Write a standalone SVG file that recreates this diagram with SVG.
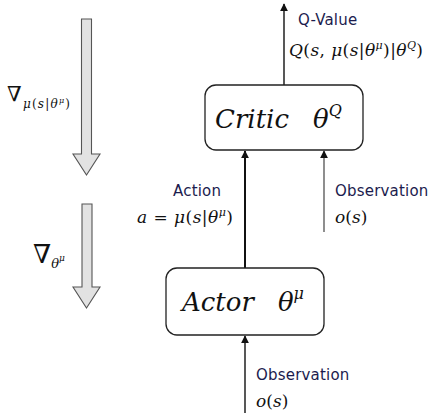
<svg xmlns="http://www.w3.org/2000/svg" width="437" height="413" viewBox="0 0 437 413">
<style>
.bg{fill:#fff}
.node rect{fill:#fff;stroke:#222;stroke-width:1.3}
.big{font-family:"DejaVu Serif","Liberation Serif",serif;font-style:italic;font-size:26px;fill:#111}
.m{font-family:"DejaVu Serif","Liberation Serif",serif;font-size:17px;fill:#111}
.i{font-style:italic}
.lab{font-family:"DejaVu Sans","Noto Sans",sans-serif;font-size:15px;letter-spacing:0.2px;fill:#1c1c4e}
.grad{fill:#e2e2e2;stroke:#555;stroke-width:1.1}
.c{stroke:#111;stroke-width:1.4;fill:none}
.ct{stroke:#111;stroke-width:2;fill:none}
.cg{stroke:#444;stroke-width:1.2;fill:none}
</style>
<defs>
<marker id="ah" viewBox="0 0 10 10" refX="9" refY="5" markerWidth="8" markerHeight="8" markerUnits="userSpaceOnUse" orient="auto">
<path d="M0,0 L10,5 L0,10 Z" fill="#111"/>
</marker>
</defs>
<rect class="bg" width="437" height="413"/>
<g id="grad1">
<path class="grad" d="M81.5,19 H91.5 V154 H100 L86.5,175 L73,154 H81.5 Z"/>
<text class="m" x="7" y="101" textLength="63" lengthAdjust="spacing"><tspan font-size="21">∇</tspan><tspan class="i" font-size="12" dy="7">μ</tspan><tspan font-size="12">(</tspan><tspan class="i" font-size="12">s</tspan><tspan font-size="12">|</tspan><tspan class="i" font-size="12">θ</tspan><tspan class="i" font-size="8" dy="-5">μ</tspan><tspan font-size="12" dy="5">)</tspan></text>
</g>
<g id="grad2">
<path class="grad" d="M82,204 H92 V287 H100 L86.5,308 L73,287 H82 Z"/>
<text class="m" x="33" y="263"><tspan font-size="26">∇</tspan><tspan class="i" font-size="13" dy="5">θ</tspan><tspan class="i" font-size="9" dy="-7">μ</tspan></text>
</g>
<g id="connectors">
<line class="c" x1="284" y1="85" x2="284" y2="4" marker-end="url(#ah)"/>
<line class="ct" x1="245" y1="268" x2="245" y2="151" marker-end="url(#ah)"/>
<line class="cg" x1="324" y1="232" x2="324" y2="151" marker-end="url(#ah)"/>
<line class="c" x1="245" y1="413" x2="245" y2="336" marker-end="url(#ah)"/>
</g>
<g id="critic" class="node">
<rect x="205" y="85" width="158" height="65" rx="11"/>
<text class="big" x="215" y="128">Critic<tspan dx="24">θ</tspan><tspan font-size="16" dy="-12">Q</tspan></text>
</g>
<g id="actor" class="node">
<rect x="166" y="268" width="158" height="67" rx="11"/>
<text class="big" x="182" y="311">Actor<tspan dx="24">θ</tspan><tspan font-size="16" dy="-12">μ</tspan></text>
</g>
<g id="labels">
<text class="lab" x="298" y="25">Q-Value</text>
<text class="m" x="289" y="56" textLength="134" lengthAdjust="spacing"><tspan class="i">Q</tspan>(<tspan class="i">s</tspan>, <tspan class="i">μ</tspan>(<tspan class="i">s</tspan>|<tspan class="i">θ</tspan><tspan class="i" font-size="11" dy="-7">μ</tspan><tspan dy="7">)|</tspan><tspan class="i">θ</tspan><tspan class="i" font-size="11" dy="-7">Q</tspan><tspan dy="7">)</tspan></text>
<text class="lab" x="173" y="196">Action</text>
<text class="m" x="137" y="223" textLength="96" lengthAdjust="spacing"><tspan class="i">a</tspan> = <tspan class="i">μ</tspan>(<tspan class="i">s</tspan>|<tspan class="i">θ</tspan><tspan class="i" font-size="11" dy="-7">μ</tspan><tspan dy="7">)</tspan></text>
<text class="lab" x="335" y="196">Observation</text>
<text class="m" x="335" y="223"><tspan class="i">o</tspan>(<tspan class="i">s</tspan>)</text>
<text class="lab" x="256" y="380">Observation</text>
<text class="m" x="256" y="407"><tspan class="i">o</tspan>(<tspan class="i">s</tspan>)</text>
</g>
</svg>
